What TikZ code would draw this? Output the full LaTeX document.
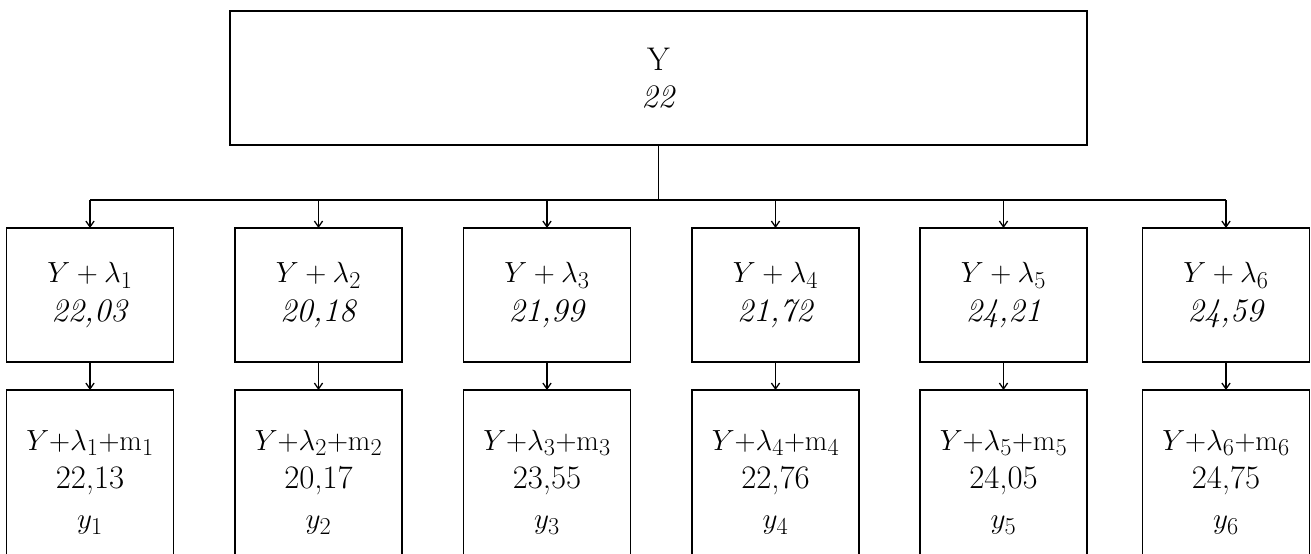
\documentclass[tikz,border=0pt]{standalone}
\usetikzlibrary{arrows.meta}
\begin{document}
\begin{tikzpicture}[x=0.03cm,y=-0.03cm,
  every node/.style={font=\fontsize{28}{33}\selectfont},
  box/.style={draw,line width=1.2pt,inner sep=0pt,outer sep=0pt,align=center,
    minimum width={167*0.03cm}},
  rowone/.style={box,minimum height={134*0.03cm}},
  rowtwo/.style={box,minimum height={184*0.03cm},anchor=north},
  conn/.style={line width=1.1pt},
  arr/.style={conn,-{Straight Barb[length=5pt,width=7pt,line width=1.1pt]}}]
\useasboundingbox (0,0) rectangle (1311,553);
\clip (0,0) rectangle (1311,553);
\node[box,minimum width={857*0.03cm},minimum height={134*0.03cm}] (top) at (658.5,78)
  {Y\\[-1pt]\textit{22}};
% row one
\node[rowone] (a1) at (90,295)    {$Y+\lambda_1$\\\textit{22,03}};
\node[rowone] (a2) at (318.5,295) {$Y+\lambda_2$\\\textit{20,18}};
\node[rowone] (a3) at (547,295)   {$Y+\lambda_3$\\\textit{21,99}};
\node[rowone] (a4) at (775.5,295) {$Y+\lambda_4$\\\textit{21,72}};
\node[rowone] (a5) at (1003.5,295){$Y+\lambda_5$\\\textit{24,21}};
\node[rowone] (a6) at (1226,295)  {$Y+\lambda_6$\\\textit{24,59}};
% row two
\node[rowtwo] (b1) at (90,390)    {$Y{+}\lambda_1{+}\mathrm{m}_1$\\22,13\\[1pt]$y_1$};
\node[rowtwo] (b2) at (318.5,390) {$Y{+}\lambda_2{+}\mathrm{m}_2$\\20,17\\[1pt]$y_2$};
\node[rowtwo] (b3) at (547,390)   {$Y{+}\lambda_3{+}\mathrm{m}_3$\\23,55\\[1pt]$y_3$};
\node[rowtwo] (b4) at (775.5,390) {$Y{+}\lambda_4{+}\mathrm{m}_4$\\22,76\\[1pt]$y_4$};
\node[rowtwo] (b5) at (1003.5,390){$Y{+}\lambda_5{+}\mathrm{m}_5$\\24,05\\[1pt]$y_5$};
\node[rowtwo] (b6) at (1226,390)  {$Y{+}\lambda_6{+}\mathrm{m}_6$\\24,75\\[1pt]$y_6$};
% bus
\coordinate (bus) at (658.5,200);
\draw[conn] (top.south) -- (bus);
\draw[conn] (a1.north |- bus) -- (a6.north |- bus);
\foreach \i in {1,...,6}{
  \draw[arr] (a\i.north |- bus) -- (a\i.north);
  \draw[arr] (a\i.south) -- (b\i.north);
}
\end{tikzpicture}
\end{document}
